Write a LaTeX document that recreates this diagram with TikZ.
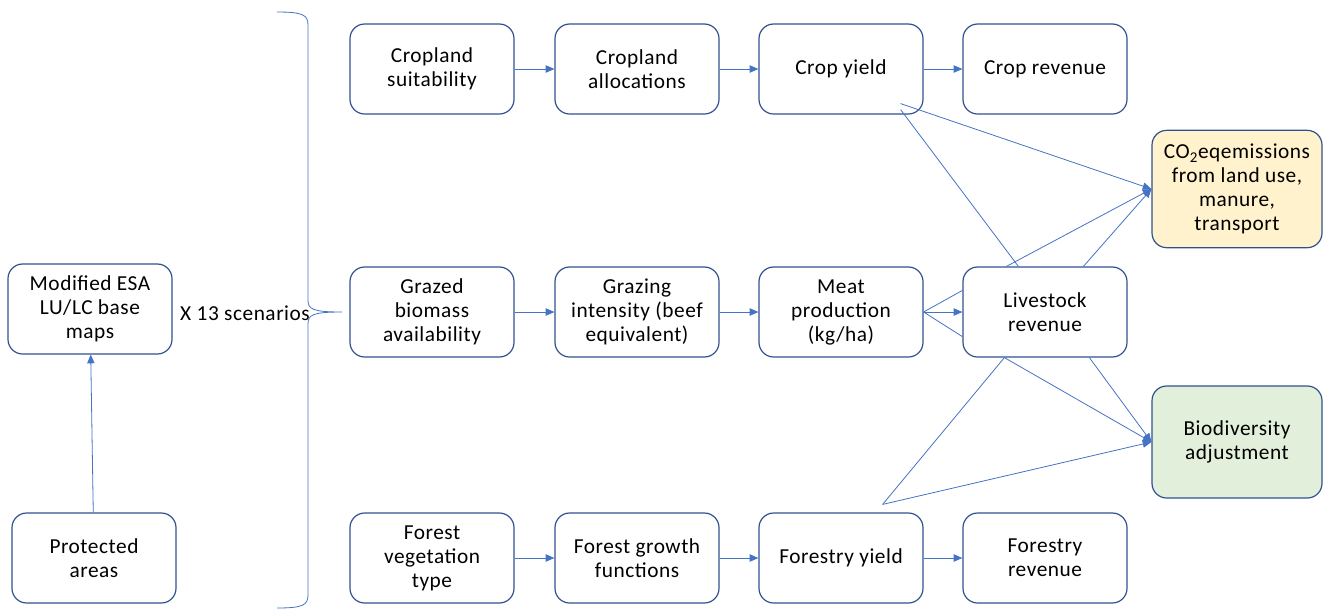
\documentclass[tikz,border=0pt]{standalone}
\usepackage{fontspec}
\setmainfont{Carlito}[LetterSpace=2.5]
\usepackage{xcolor}
\usetikzlibrary{positioning,calc,arrows.meta}

\definecolor{boxline}{HTML}{2F528F}
\definecolor{linkblue}{HTML}{4472C4}
\definecolor{co2fill}{HTML}{FFF2CC}
\definecolor{biofill}{HTML}{E2EFDA}

\tikzset{
  stagebox/.style={draw=boxline, line width=0.9pt, rounded corners=11pt,
    minimum width=123pt, minimum height=67.5pt, align=center,
    font=\fontsize{16}{18}\selectfont, inner sep=2pt},
  link/.style={draw=linkblue, line width=0.6pt},
  linkarrow/.style={link, -{Triangle[length=6.5pt,width=5.5pt]}}
}

\begin{document}
\begin{tikzpicture}[x=0.75pt,y=-0.75pt]
  \useasboundingbox (0,0) rectangle (1336,612);

  % left column
  \node[stagebox] (esa) at (90,309) {Modified ESA\\LU/LC base\\maps};
  \node[stagebox] (prot) at (94,558) {Protected\\areas};
  \node[font=\fontsize{16}{18}\selectfont] (scen) at (245,313) {X 13 scenarios};

  % scenario brace
  \draw[link] (277,12) .. controls (303,12) and (308,15) .. (308,25) -- (308,300)
    .. controls (308,309) and (312,312) .. (342,312)
    .. controls (312,312) and (308,315) .. (308,324) -- (308,595)
    .. controls (308,605) and (303,608) .. (277,608);

  % crop row
  \node[stagebox] (cs) at (432,69) {Cropland\\suitability};
  \node[stagebox] (ca) at (637,69) {Cropland\\allocations};
  \node[stagebox] (cy) at (841,69) {Crop yield};
  \node[stagebox] (cr) at (1045,69) {Crop revenue};

  % grazing row
  \node[stagebox] (gb) at (432,312) {Grazed\\biomass\\availability};
  \node[stagebox] (gi) at (637,312) {Grazing\\intensity (beef\\equivalent)};
  \node[stagebox] (mp) at (841,312) {Meat\\production\\(kg/ha)};
  \node[stagebox] (lr) at (1045,312) {Livestock\\revenue};

  % forest row
  \node[stagebox] (fv) at (432,558) {Forest\\vegetation\\type};
  \node[stagebox] (fg) at (637,558) {Forest growth\\functions};
  \node[stagebox] (fy) at (841,558) {Forestry yield};
  \node[stagebox] (fr) at (1045,558) {Forestry\\revenue};

  % outcomes
  \node[stagebox, fill=co2fill, minimum width=127.5pt, minimum height=88pt] (co2) at (1237,189)
    {CO\textsubscript{2}eqemissions\\from land use,\\manure,\\transport};
  \node[stagebox, fill=biofill, minimum width=127.5pt, minimum height=84pt] (bio) at (1237,442)
    {Biodiversity\\adjustment};

  \draw[linkarrow] (prot) -- (esa);
  \foreach \a/\b in {cs/ca,ca/cy,cy/cr,gb/gi,gi/mp,mp/lr,fv/fg,fg/fy,fy/fr}
    \draw[linkarrow] (\a) -- (\b);

  % meat production fan
  \draw[link] (mp.east) -- ($(lr.north west)+(0,24)$);
  \draw[link] (mp.east) -- ($(lr.south west)+(0,-21)$);

  % links to emissions
  \coordinate (cyA) at ($(cy.south east)+(-23,-11)$);
  \coordinate (cyB) at ($(cy.south east)+(-23,-5)$);
  \draw[linkarrow] (cyA) -- (co2.west);
  \draw[link] (cyB) -- ($(lr.north west)+(56,0)$);
  \draw[linkarrow] ($(lr.north west)+(44,0)$) -- (co2.west);
  \draw[linkarrow] ($(lr.north west)+(121,0)$) -- (co2.west);

  % links to biodiversity
  \coordinate (fyA) at ($(fy.north east)+(-41,-8)$);
  \draw[link] ($(lr.south west)+(42,0)$) -- (fyA);
  \draw[linkarrow] (fyA) -- (bio.west);
  \draw[linkarrow] ($(lr.south west)+(42,0)$) -- (bio.west);
  \draw[linkarrow] ($(lr.south west)+(127,0)$) -- (bio.west);
\end{tikzpicture}
\end{document}
